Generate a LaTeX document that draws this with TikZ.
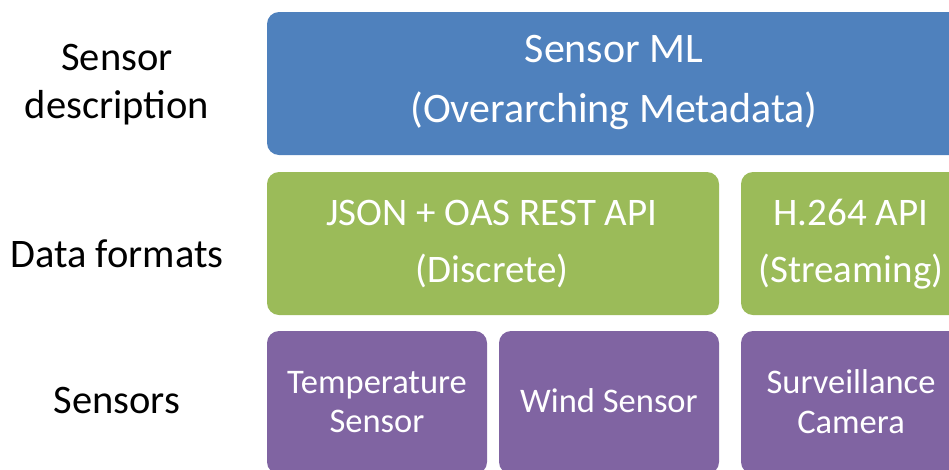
\documentclass[tikz,border=0pt]{standalone}
\usepackage{fontspec}
\setmainfont{Carlito}
\definecolor{mlblue}{HTML}{4F81BD}
\definecolor{fmtgreen}{HTML}{9BBB59}
\definecolor{senspurple}{HTML}{8064A2}
\tikzset{
  layerbox/.style={rounded corners=12pt, inner sep=0pt, draw=none, minimum height=143pt},
  boxtxt/.style={anchor=base, inner sep=0pt, text=white},
  mltxt/.style={boxtxt, font=\fontsize{42}{50}\selectfont},
  fmttxt/.style={boxtxt, font=\fontsize{39}{47}\selectfont},
  senstxt/.style={boxtxt, font=\fontsize{34.5}{41}\selectfont},
  rowlabel/.style={anchor=base, inner sep=0pt, text=black, font=\fontsize{40.5}{49}\selectfont}
}
\begin{document}
\begin{tikzpicture}[x=1pt, y=-1pt]
  \useasboundingbox (0,0) rectangle (949,469);
  \clip (0,0) rectangle (949,469);

  % layer boxes
  \node[layerbox, fill=mlblue, minimum width=694pt] (sml) at (614,83.5) {};
  \node[layerbox, fill=fmtgreen, minimum width=452pt] (json) at (493,243.5) {};
  \node[layerbox, fill=fmtgreen, minimum width=220pt] (h264) at (851,243.5) {};
  \node[layerbox, fill=senspurple, minimum width=220pt] (temp) at (377,402.5) {};
  \node[layerbox, fill=senspurple, minimum width=220pt] (wind) at (609,402.5) {};
  \node[layerbox, fill=senspurple, minimum width=220pt] (cam) at (851,402.5) {};

  % box texts
  \node[mltxt] (smlA) at (614,62) {Sensor ML};
  \node[mltxt] (smlB) at (614,122) {(Overarching Metadata)};
  \node[fmttxt] (jsonA) at (492,225) {JSON + OAS REST API};
  \node[fmttxt] (jsonB) at (492,282) {(Discrete)};
  \node[fmttxt] (h264A) at (851,225) {H.264 API};
  \node[fmttxt] (h264B) at (851,282) {(Streaming)};
  \node[senstxt] (tempA) at (377,393) {Temperature};
  \node[senstxt] (tempB) at (377,432) {Sensor};
  \node[senstxt] (windA) at (609,412) {Wind Sensor};
  \node[senstxt] (camA) at (851,393) {Surveillance};
  \node[senstxt] (camB) at (851,433) {Camera};

  % row labels
  \node[rowlabel] (lblA) at (117,70) {Sensor};
  \node[rowlabel] (lblB) at (117,118) {description};
  \node[rowlabel] (lblC) at (117,267) {Data formats};
  \node[rowlabel] (lblD) at (117,413) {Sensors};
\end{tikzpicture}
\end{document}
